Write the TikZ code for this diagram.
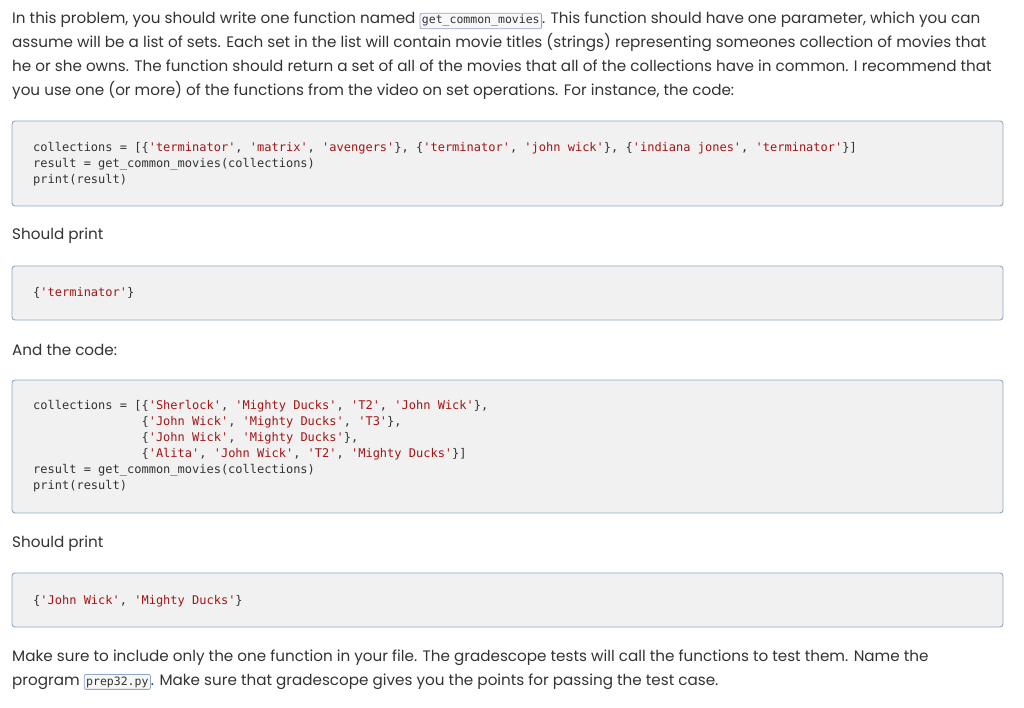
\documentclass[tikz,border=0pt]{standalone}
\usepackage{fontspec}
\setmainfont{Poppins}
\setmonofont{DejaVu Sans Mono}
\definecolor{txt}{HTML}{333333}
\definecolor{str}{HTML}{A31515}
\definecolor{bfill}{HTML}{F1F1F1}
\definecolor{bdraw}{HTML}{8FA7C9}
\newcommand{\s}[1]{\textcolor{str}{#1}}
\newcommand{\ic}[1]{\tikz[baseline=(c.base)]\node[inner sep=2pt,draw=bdraw,line width=0.8pt,fill=bfill!60,rounded corners=2pt,font=\ttfamily\fontsize{11.5}{13}\selectfont](c){#1};}
\begin{document}
\begin{tikzpicture}[x=1pt,y=-1pt,
  para/.style={anchor=base west,inner sep=0,text=txt,font=\fontsize{15.2}{18}\selectfont},
  code/.style={anchor=base west,inner sep=0,text=txt,font=\ttfamily\fontsize{12}{14}\selectfont},
  cbox/.style={draw=bdraw,fill=bfill,rounded corners=3pt,line width=0.9pt}]
\useasboundingbox (0,0) rectangle (1024,708);
\fill[white] (0,0) rectangle (1024,708);
\node[para] (p1) at (12,24) {In this problem, you should write one function named \ic{get\_common\_movies}. This function should have one parameter, which you can};
\node[para] (p2) at (12,48) {assume will be a list of sets. Each set in the list will contain movie titles (strings) representing someones collection of movies that};
\node[para] (p3) at (12,72) {he or she owns. The function should return a set of all of the movies that all of the collections have in common. I recommend that};
\node[para] (p4) at (12,96) {you use one (or more) of the functions from the video on set operations. For instance, the code:};
\draw[cbox] (12,121) rectangle (1003,206);
\node[code] (c1) at (33,152) {collections = [\{\s{'terminator'}, \s{'matrix'}, \s{'avengers'}\}, \{\s{'terminator'}, \s{'john wick'}\}, \{\s{'indiana jones'}, \s{'terminator'}\}]};
\node[code] (c2) at (33,168) {result = get\_common\_movies(collections)};
\node[code] (c3) at (33,184) {print(result)};
\node[para] (s1) at (12,240) {Should print};
\draw[cbox] (12,266) rectangle (1003,320);
\node[code] (o1) at (33,297) {\{\s{'terminator'}\}};
\node[para] (a1) at (12,355) {And the code:};
\draw[cbox] (12,380) rectangle (1003,513);
\node[code] (d1) at (33,409) {collections = [\{\s{'Sherlock'}, \s{'Mighty Ducks'}, \s{'T2'}, \s{'John Wick'}\},};
\node[code] (d2) at (33,425) {\phantom{collections = [}\{\s{'John Wick'}, \s{'Mighty Ducks'}, \s{'T3'}\},};
\node[code] (d3) at (33,441) {\phantom{collections = [}\{\s{'John Wick'}, \s{'Mighty Ducks'}\},};
\node[code] (d4) at (33,457) {\phantom{collections = [}\{\s{'Alita'}, \s{'John Wick'}, \s{'T2'}, \s{'Mighty Ducks'}\}]};
\node[code] (d5) at (33,473) {result = get\_common\_movies(collections)};
\node[code] (d6) at (33,489) {print(result)};
\node[para] (s2) at (12,547) {Should print};
\draw[cbox] (12,573) rectangle (1003,627);
\node[code] (o2) at (33,604) {\{\s{'John Wick'}, \s{'Mighty Ducks'}\}};
\node[para] (f1) at (12,661) {Make sure to include only the one function in your file. The gradescope tests will call the functions to test them. Name the};
\node[para] (f2) at (12,685) {program \ic{prep32.py}. Make sure that gradescope gives you the points for passing the test case.};
\end{tikzpicture}
\end{document}
